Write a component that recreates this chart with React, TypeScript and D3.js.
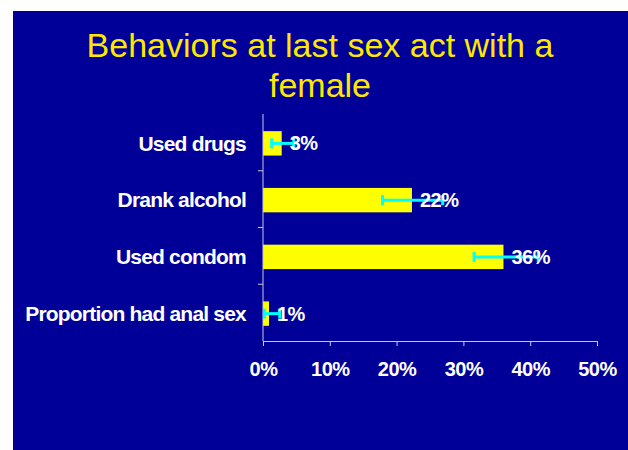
import React, { useRef, useEffect } from "react";
import * as d3 from "d3";

const categories = ["Used drugs", "Drank alcohol", "Used condom", "Proportion had anal sex"];
const values = [2.8, 22.3, 36, 0.9];
const lowerCI = [1.3, 17.9, 31.6, 0.2];
const upperCI = [4.6, 26.9, 41.2, 2.5];
const labels = ["3%", "22%", "36%", "1%"];
const xTicks = [0, 10, 20, 30, 40, 50];
const titleLines = ["Behaviors at last sex act with a", "female"];

const BarChart: React.FC = () => {
  const ref = useRef<SVGSVGElement | null>(null);

  useEffect(() => {
    const width = 628;
    const height = 450;
    const font = "Arial, 'Liberation Sans', sans-serif";

    d3.select(ref.current).selectAll("*").remove();
    const svg = d3.select(ref.current).attr("width", width).attr("height", height);

    // slide background
    svg.append("rect").attr("width", width).attr("height", height).attr("fill", "#fff");
    svg
      .append("rect")
      .attr("x", 13)
      .attr("y", 11)
      .attr("width", width - 13)
      .attr("height", height - 11)
      .attr("fill", "#000099");

    // Title
    svg
      .selectAll(".title")
      .data(titleLines)
      .enter()
      .append("text")
      .attr("x", 320)
      .attr("y", (d, i) => 57 + i * 40)
      .attr("text-anchor", "middle")
      .attr("fill", "#ffe800")
      .style("font-family", font)
      .style("font-size", "34px")
      .text((d) => d);

    // Scales
    const x = d3.scaleLinear().domain([0, 50]).range([263, 597]);
    const y = d3.scaleBand<string>().domain(categories).range([114, 341]).paddingInner(0.57).paddingOuter(0.285);
    const step = y.step();

    // Bars
    svg
      .selectAll(".bar")
      .data(categories)
      .enter()
      .append("rect")
      .attr("x", x(0))
      .attr("y", (d) => (y(d) ?? 0) + 1)
      .attr("width", (d, i) => x(values[i]) - x(0))
      .attr("height", y.bandwidth())
      .attr("fill", "#ffff00");

    // Axes
    const axisColor = "#c8c8e0";
    const yAxis = svg.append("g").attr("transform", `translate(${x(0)},0)`);
    yAxis.append("line").attr("y1", 114).attr("y2", 341).attr("stroke", axisColor);
    yAxis
      .selectAll("line.tick")
      .data(d3.range(1, categories.length))
      .enter()
      .append("line")
      .attr("class", "tick")
      .attr("x1", -5)
      .attr("x2", 0)
      .attr("y1", (d) => 114 + d * step)
      .attr("y2", (d) => 114 + d * step)
      .attr("stroke", axisColor);

    const xAxis = svg
      .append("g")
      .attr("transform", `translate(0,341)`)
      .call(
        d3
          .axisBottom(x)
          .tickValues(xTicks)
          .tickSize(5)
          .tickSizeOuter(0)
          .tickPadding(16)
          .tickFormat((d) => `${d}%`) as any,
      );
    xAxis.select(".domain").attr("stroke", axisColor);
    xAxis.selectAll("line").attr("stroke", axisColor);
    xAxis
      .selectAll("text")
      .attr("fill", "#fff")
      .style("font-family", font)
      .style("font-size", "20px")
      .style("font-weight", "bold")
      .style("letter-spacing", "-0.5px");

    // Category labels
    svg
      .selectAll(".cat")
      .data(categories)
      .enter()
      .append("text")
      .attr("x", 246)
      .attr("y", (d) => (y(d) ?? 0) + y.bandwidth() / 2 + 1)
      .attr("dy", "0.35em")
      .attr("text-anchor", "end")
      .attr("fill", "#fff")
      .style("font-family", font)
      .style("font-size", "21px")
      .style("font-weight", "bold")
      .style("letter-spacing", "-0.8px")
      .text((d) => d);

    // Error bars
    const err = svg.append("g").attr("stroke", "#00ffff").attr("stroke-width", 3);
    categories.forEach((c, i) => {
      const cy = (y(c) ?? 0) + y.bandwidth() / 2 + 1;
      err.append("line").attr("x1", x(lowerCI[i])).attr("x2", x(upperCI[i])).attr("y1", cy).attr("y2", cy);
      [lowerCI[i], upperCI[i]].forEach((v) => {
        err
          .append("line")
          .attr("x1", x(v))
          .attr("x2", x(v))
          .attr("y1", cy - 5)
          .attr("y2", cy + 5);
      });
    });

    // Data labels
    svg
      .selectAll(".lbl")
      .data(categories)
      .enter()
      .append("text")
      .attr("x", (d, i) => x(values[i]) + 8)
      .attr("y", (d) => (y(d) ?? 0) + y.bandwidth() / 2 + 1)
      .attr("dy", "0.35em")
      .attr("fill", "#fff")
      .style("font-family", font)
      .style("font-size", "20px")
      .style("font-weight", "bold")
      .style("letter-spacing", "-0.5px")
      .text((d, i) => labels[i]);
  }, []);

  return <svg ref={ref} style={{ position: "absolute", left: 0, top: 0, display: "block" }} />;
};

export default function App() {
  return <BarChart />;
}
